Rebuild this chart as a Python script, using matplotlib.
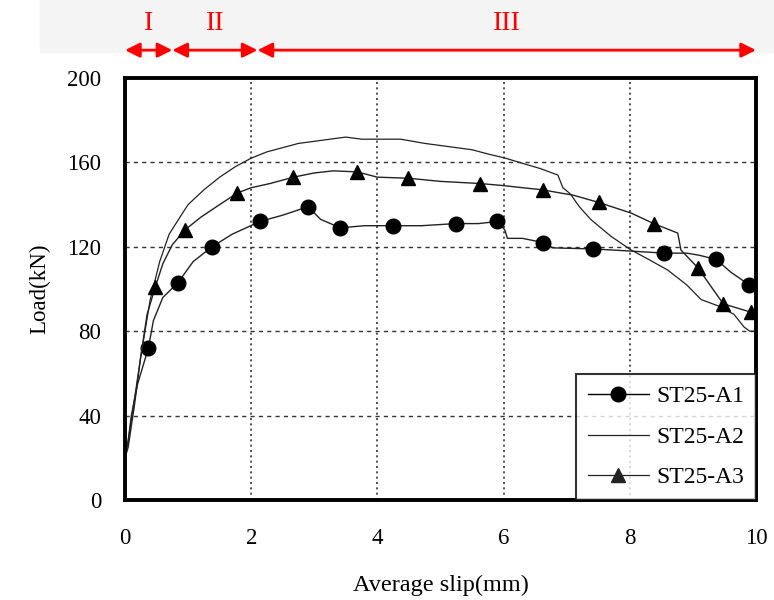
import matplotlib
matplotlib.use("Agg")
import matplotlib.pyplot as plt
from matplotlib.lines import Line2D
from matplotlib.patches import Rectangle

plt.rcParams['font.family'] = ['Liberation Serif', 'DejaVu Serif']

# ST25-A1 curve (circles)
a1_x = [0, 0.05, 0.1, 0.2, 0.37, 0.45, 0.6, 0.84, 1.08, 1.38, 1.7, 2.14, 2.5, 2.9, 3.1,
        3.41, 3.8, 4.25, 4.7, 5.24, 5.6, 5.9, 6.02, 6.06, 6.3, 6.63, 6.78, 7.41, 8.0,
        8.54, 8.9, 9.1, 9.37, 9.6, 9.89, 10.0]
a1_y = [20, 28, 40, 55, 72, 85, 96, 103, 113, 120, 126, 132, 135, 139, 133,
        129, 130, 130, 130, 131, 131, 132, 128, 124, 124, 122, 119.5, 119, 118,
        117, 117, 116, 114, 108, 102, 101]
a1_mx = [0.37, 0.84, 1.38, 2.14, 2.9, 3.41, 4.25, 5.24, 5.9, 6.63, 7.41, 8.54, 9.37, 9.89]
a1_my = [72, 103, 120, 132, 139, 129, 130, 131, 132, 122, 119, 117, 114, 102]

# ST25-A2 curve (plain line)
a2_x = [0, 0.05, 0.1, 0.15, 0.25, 0.4, 0.55, 0.7, 0.87, 1.0, 1.25, 1.5, 1.75, 2.0, 2.25,
        2.5, 2.75, 3.0, 3.25, 3.5, 3.75, 4.0, 4.37, 4.75, 5.0, 5.25, 5.5, 5.75, 6.03,
        6.25, 6.59, 6.86, 6.94, 7.06, 7.2, 7.38, 7.7, 8.02, 8.3, 8.6, 8.9, 9.13, 9.4,
        9.65, 9.81, 9.9, 10.0]
a2_y = [20, 28, 38, 48, 68, 95, 113, 126, 134, 140, 147, 153, 158, 162, 165,
        167, 169, 170, 171, 172, 171, 171, 171, 169, 168, 167, 166, 164, 162,
        160, 157, 154, 148, 145, 139, 133, 125, 118.5, 114, 109, 102, 95, 92,
        88, 82, 80, 80]

# ST25-A3 curve (triangles)
a3_x = [0, 0.05, 0.15, 0.25, 0.35, 0.48, 0.6, 0.75, 0.95, 1.2, 1.5, 1.78, 2.0, 2.3, 2.67,
        3.0, 3.3, 3.68, 4.0, 4.49, 5.0, 5.62, 6.0, 6.3, 6.62, 6.9, 7.1, 7.51, 8.02,
        8.38, 8.76, 8.81, 9.08, 9.48, 9.92, 10.0]
a3_y = [20, 25, 45, 68, 88, 101, 112, 121, 128, 134, 140, 145.5, 148, 150, 153,
        155, 156, 155.5, 153, 152.5, 151, 150, 149, 148, 147, 145.5, 144.5, 141, 136,
        131, 126.5, 118.5, 110, 93, 89, 88]
a3_mx = [0.48, 0.95, 1.78, 2.67, 3.68, 4.49, 5.62, 6.62, 7.51, 8.38, 9.08, 9.48, 9.92]
a3_my = [101, 128, 145.5, 153, 155.5, 152.5, 150, 147, 141, 131, 110, 93, 89]

# loading stages
stage_names = ['I', 'II', 'III']
stage_bounds = [0, 0.75, 2.1, 10.0]

fig = plt.figure(figsize=(7.74, 6), dpi=100)
fig.patches.append(Rectangle((40 / 774, 1 - 52 / 600), 1, 52 / 600,
                             transform=fig.transFigure, color='#f4f4f4', zorder=-5))
ax = fig.add_axes([125 / 774, 100 / 600, 631 / 774, 422 / 600])
ax.set_zorder(1)
ax.patch.set_alpha(0)

ax.plot(a1_x, a1_y, color='#222222', lw=1.0)
ax.plot(a1_mx, a1_my, 'o', color='black', ms=10.5, ls='none')
ax.plot(a2_x, a2_y, color='#222222', lw=0.9)
ax.plot(a3_x, a3_y, color='#222222', lw=1.0)
ax.plot(a3_mx, a3_my, '^', color='black', ms=10.5, ls='none')

ax.set_xlim(0, 10)
ax.set_ylim(0, 200)
ax.set_xticks([0, 2, 4, 6, 8, 10])
ax.set_yticks([0, 40, 80, 120, 160, 200])
ax.tick_params(length=0, labelsize=16.5)
ax.tick_params(axis='y', pad=17)
ax.tick_params(axis='x', pad=20)
for s in ax.spines.values():
    s.set_linewidth(2.8)

for v in [40, 80, 120, 160]:
    ax.axhline(v, color='#333333', lw=1.0, ls=(0, (3, 3)), zorder=0.5)
for v in [2, 4, 6, 8]:
    ax.axvline(v, color='#333333', lw=1.2, ls=(0, (1.2, 2)), zorder=0.5)

ax.set_xlabel('Average slip(mm)', fontsize=17.5, labelpad=19)
ax.set_ylabel('Load(kN)', fontsize=16.5, labelpad=12)

handles = [Line2D([], [], color='black', lw=1.0, marker='o', ms=10.5),
           Line2D([], [], color='#222222', lw=0.9),
           Line2D([], [], color='#222222', lw=0.9, marker='^', ms=10.5)]
leg = ax.legend(handles, ['ST25-A1', 'ST25-A2', 'ST25-A3'], loc='lower right',
                borderaxespad=0, fontsize=17, frameon=True, fancybox=False,
                handlelength=2.6, handletextpad=0.3, labelspacing=0.8,
                borderpad=0.5)
leg.get_frame().set_edgecolor('black')
leg.get_frame().set_linewidth(1.5)

for i, name in enumerate(stage_names):
    x0, x1 = stage_bounds[i], stage_bounds[i + 1]
    ax.annotate('', xy=(x1, 1.066), xytext=(x0, 1.066),
                xycoords=('data', 'axes fraction'),
                arrowprops=dict(arrowstyle='<|-|>', color='red', lw=2,
                                mutation_scale=22, shrinkA=0, shrinkB=0),
                annotation_clip=False)
    ax.text((x0 + x1) / 2, 1.13, name, color='red', fontsize=20,
            ha='center', va='center', transform=ax.get_xaxis_transform())

fig.savefig('out.png', dpi=100)
